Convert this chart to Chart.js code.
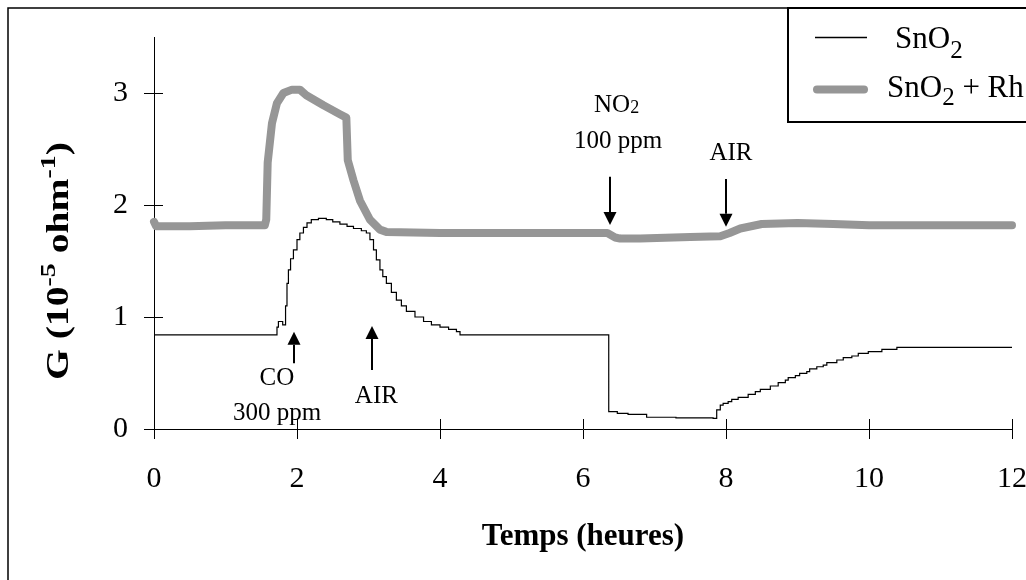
<!DOCTYPE html>
<html>
<head>
<meta charset="utf-8">
<title>SnO2 / SnO2 + Rh</title>
<script src="https://cdn.jsdelivr.net/npm/chart.js@4.4.0/dist/chart.umd.min.js"></script>
<style>
html, body { margin:0; padding:0; background:#fff; }
#chart { display:block; }
</style>
</head>
<body>
<canvas id="chart" width="1026" height="580"></canvas>
<script>
// SnO2 + Rh (gros trait gris)
var rhTime = [0, 0.03, 0.5, 1.0, 1.55, 1.57, 1.59, 1.65, 1.72, 1.81, 1.93, 2.04, 2.13, 2.37, 2.60, 2.69, 2.71, 2.79, 2.88, 3.02, 3.16, 3.25, 4.0, 5.0, 6.0, 6.34, 6.45, 6.52, 6.8, 7.5, 7.92, 8.05, 8.2, 8.5, 9.0, 9.5, 10.0, 11.0, 12.0];
var rhG = [1.85, 1.81, 1.81, 1.82, 1.82, 1.87, 2.38, 2.73, 2.91, 3.00, 3.03, 3.03, 2.98, 2.89, 2.81, 2.78, 2.40, 2.22, 2.04, 1.87, 1.78, 1.76, 1.75, 1.75, 1.75, 1.75, 1.71, 1.70, 1.70, 1.715, 1.72, 1.75, 1.79, 1.83, 1.84, 1.83, 1.82, 1.82, 1.82];

// SnO2 (trait noir fin, en escalier)
var snTime = [0, 1.72, 1.74, 1.80, 1.84, 1.86, 1.88, 1.91, 1.95, 2.00, 2.04, 2.09, 2.14, 2.20, 2.30, 2.41, 2.50, 2.60, 2.70, 2.79, 2.90, 2.97, 3.02, 3.07, 3.11, 3.16, 3.20, 3.25, 3.32, 3.39, 3.46, 3.53, 3.65, 3.77, 3.88, 4.00, 4.12, 4.23, 4.28,
  6.36, 6.48, 6.63, 6.89, 7.30, 7.82, 7.87, 7.92, 7.96, 8.03, 8.08, 8.17, 8.31, 8.41, 8.48, 8.62, 8.73, 8.83, 8.87, 8.97, 9.03, 9.13, 9.17, 9.27, 9.36, 9.41, 9.55, 9.64, 9.76, 9.85, 9.99, 10.18, 10.39, 12.0];
var snG = [0.84, 0.91, 0.96, 0.93, 1.10, 1.30, 1.42, 1.52, 1.60, 1.69, 1.75, 1.80, 1.84, 1.87, 1.88, 1.87, 1.85, 1.83, 1.81, 1.79, 1.77, 1.75, 1.69, 1.60, 1.51, 1.42, 1.36, 1.30, 1.22, 1.15, 1.10, 1.05, 1.00, 0.96, 0.93, 0.91, 0.89, 0.87, 0.84,
  0.155, 0.14, 0.13, 0.105, 0.10, 0.095, 0.17, 0.214, 0.229, 0.244, 0.265, 0.283, 0.31, 0.333, 0.354, 0.384, 0.414, 0.437, 0.458, 0.476, 0.497, 0.512, 0.536, 0.556, 0.571, 0.592, 0.616, 0.637, 0.652, 0.676, 0.69, 0.711, 0.729, 0.73];

var xTicks = [0, 2, 4, 6, 8, 10, 12];
var yTicks = [0, 1, 2, 3];

// flèches : temps, départ, pointe
var arrowTime = [1.96, 3.05, 6.38, 8.0];
var arrowFrom = [0.586, 0.527, 2.253, 2.232];
var arrowTo = [0.869, 0.92, 1.821, 1.806];

// textes des gaz
var noteText = ['CO', '300 ppm', 'AIR', 'NO2', '100 ppm', 'AIR'];
var noteTime = [1.72, 1.72, 3.11, 6.47, 6.49, 8.07];
var noteG = [0.393, 0.080, 0.232, 2.833, 2.509, 2.402];

var seriesNames = ['SnO2', 'SnO2 + Rh'];

var SERIF = '"Liberation Serif", "Times New Roman", serif';

function pts(t, g) {
  var out = [];
  for (var i = 0; i < t.length; i++) out.push({x: t[i], y: g[i]});
  return out;
}

// texte avec le 2 de O2 en indice
function drawRich(ctx, str, x, y, size, align, subSize, subDrop) {
  var i = str.indexOf('O2');
  var parts = i < 0 ? [[str, false]] : [[str.slice(0, i + 1), false], ['2', true], [str.slice(i + 2), false]];
  var w = 0;
  parts.forEach(function (p) {
    ctx.font = (p[1] ? subSize : size) + 'px ' + SERIF;
    w += ctx.measureText(p[0]).width;
  });
  var cx = align === 'center' ? x - w / 2 : x;
  ctx.textAlign = 'left';
  ctx.textBaseline = 'alphabetic';
  parts.forEach(function (p) {
    ctx.font = (p[1] ? subSize : size) + 'px ' + SERIF;
    ctx.fillText(p[0], cx, p[1] ? y + subDrop : y);
    cx += ctx.measureText(p[0]).width;
  });
}

function arrow(ctx, x, y0, y1) {
  var dir = y1 > y0 ? 1 : -1;
  var head = 13;
  ctx.beginPath();
  ctx.moveTo(x, y0);
  ctx.lineTo(x, y1 - dir * head);
  ctx.stroke();
  ctx.beginPath();
  ctx.moveTo(x, y1);
  ctx.lineTo(x - 6.5, y1 - dir * head);
  ctx.lineTo(x + 6.5, y1 - dir * head);
  ctx.closePath();
  ctx.fill();
}

var decor = {
  id: 'decor',
  afterDraw: function (chart) {
    var ctx = chart.ctx;
    var xs = chart.scales.x, ys = chart.scales.y;
    ctx.save();
    ctx.strokeStyle = '#000';
    ctx.fillStyle = '#000';

    // cadre extérieur
    ctx.lineWidth = 1.5;
    ctx.beginPath();
    ctx.moveTo(8, 580);
    ctx.lineTo(8, 8);
    ctx.lineTo(788, 8);
    ctx.stroke();

    // graduations qui croisent les axes
    ctx.lineWidth = 1;
    xTicks.forEach(function (v) {
      var px = Math.round(xs.getPixelForValue(v)) + 0.5;
      ctx.beginPath();
      ctx.moveTo(px, ys.bottom);
      ctx.lineTo(px, ys.bottom - 10);
      ctx.stroke();
    });
    yTicks.forEach(function (v) {
      var py = Math.round(ys.getPixelForValue(v)) + 0.5;
      ctx.beginPath();
      ctx.moveTo(xs.left, py);
      ctx.lineTo(xs.left + 9, py);
      ctx.stroke();
    });

    // titre de l'axe vertical
    var tparts = [['G (10', false], ['-5', true], [' ohm', false], ['-1', true], [')', false]];
    ctx.save();
    ctx.translate(68, 380);
    ctx.rotate(-Math.PI / 2);
    var w = 0;
    tparts.forEach(function (p) {
      ctx.font = 'bold ' + (p[1] ? 22 : 31) + 'px ' + SERIF;
      w += ctx.measureText(p[0]).width;
    });
    ctx.scale(238 / w, 1);
    ctx.textAlign = 'left';
    ctx.textBaseline = 'alphabetic';
    var cx = 0;
    tparts.forEach(function (p) {
      ctx.font = 'bold ' + (p[1] ? 22 : 31) + 'px ' + SERIF;
      ctx.fillText(p[0], cx, p[1] ? -13 : 0);
      cx += ctx.measureText(p[0]).width;
    });
    ctx.restore();

    // flèches
    ctx.lineWidth = 2;
    for (var i = 0; i < arrowTime.length; i++) {
      var ax = Math.round(xs.getPixelForValue(arrowTime[i]));
      arrow(ctx, ax, ys.getPixelForValue(arrowFrom[i]), ys.getPixelForValue(arrowTo[i]));
    }

    // textes
    for (var j = 0; j < noteText.length; j++) {
      drawRich(ctx, noteText[j], xs.getPixelForValue(noteTime[j]), ys.getPixelForValue(noteG[j]), 25, 'center', 18, 1);
    }

    // légende
    ctx.fillStyle = '#fff';
    ctx.fillRect(788, 8, 240, 114);
    ctx.fillStyle = '#000';
    ctx.lineWidth = 2;
    ctx.strokeRect(788, 8, 250, 114);
    ctx.lineCap = 'butt';
    ctx.lineWidth = 1.5;
    ctx.beginPath();
    ctx.moveTo(815, 37.5);
    ctx.lineTo(867, 37.5);
    ctx.stroke();
    ctx.strokeStyle = '#969696';
    ctx.lineWidth = 8;
    ctx.lineCap = 'round';
    ctx.beginPath();
    ctx.moveTo(817, 89.5);
    ctx.lineTo(864, 89.5);
    ctx.stroke();
    drawRich(ctx, seriesNames[0], 895, 47.5, 31, 'left', 25, 10);
    drawRich(ctx, seriesNames[1], 887, 96.5, 31, 'left', 25, 8);

    ctx.restore();
  }
};

new Chart(document.getElementById('chart'), {
  type: 'line',
  data: {
    datasets: [{
      label: seriesNames[0],
      data: pts(snTime, snG),
      borderColor: '#000',
      borderWidth: 1.2,
      stepped: 'before',
      pointRadius: 0,
      fill: false
    }, {
      label: seriesNames[1],
      data: pts(rhTime, rhG),
      borderColor: '#969696',
      borderWidth: 8,
      borderCapStyle: 'round',
      borderJoinStyle: 'round',
      pointRadius: 0,
      tension: 0,
      fill: false,
      clip: false
    }]
  },
  options: {
    responsive: false,
    animation: false,
    devicePixelRatio: 1,
    layout: { padding: { left: 50, right: 14, top: 37, bottom: 24 } },
    plugins: { legend: { display: false }, tooltip: { enabled: false } },
    scales: {
      x: {
        type: 'linear',
        min: 0,
        max: 12,
        afterBuildTicks: function (s) { s.ticks = xTicks.map(function (v) { return {value: v}; }); },
        afterFit: function (s) { s.height = 127; s.paddingLeft = 0; s.paddingRight = 0; },
        grid: { drawOnChartArea: false, tickLength: 10, color: '#000', lineWidth: 1 },
        border: { color: '#000', width: 1 },
        ticks: { color: '#000', padding: 22, maxRotation: 0, font: { family: SERIF, size: 30 } },
        title: { display: true, text: 'Temps (heures)', color: '#000', padding: 0, font: { family: SERIF, size: 31, weight: 'bold' } }
      },
      y: {
        min: 0,
        max: 3.5,
        afterBuildTicks: function (s) { s.ticks = yTicks.map(function (v) { return {value: v}; }); },
        afterFit: function (s) { s.width = 104; s.paddingTop = 0; s.paddingBottom = 0; },
        grid: { drawOnChartArea: false, tickLength: 10, color: '#000', lineWidth: 1 },
        border: { color: '#000', width: 1 },
        ticks: { color: '#000', padding: 16, font: { family: SERIF, size: 30 } }
      }
    }
  },
  plugins: [decor]
});
</script>
</body>
</html>
